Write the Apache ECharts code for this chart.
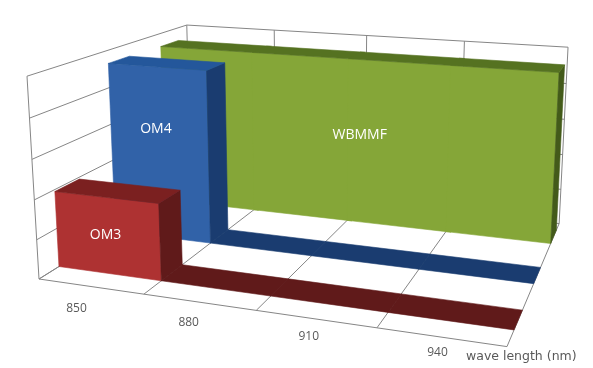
<!DOCTYPE html>
<html><head><meta charset="utf-8">
<style>html,body{margin:0;padding:0;background:#fff}#c{width:593px;height:368px}</style>
<script src="https://cdn.jsdelivr.net/npm/echarts@6/dist/echarts.min.js"></script>
</head><body><div id="c"></div>
<script>
// ---- data ----
const categories = ['850', '880', '910', '940'];
const valueTicks = [0, 1000, 2000, 3000, 4000, 5000];
const OM3 = [1950, 0, 0, 0];
const OM4 = [4650, 0, 0, 0];
const WBMMF = [4620, 4620, 4620, 4620];
const axisName = 'wave length (nm)';

// ---- camera: vanishing-point projection of the 3D plot box ----
const O = [39, 279], Vu = [-3000, -160], Vd = [715, -144], Vv = [318, 4999];
const A = -0.03336, B = 0.29, G = -0.0412; // per category, per depth, per full height
function P(u, d, t) {
  const a = u * A, b = d * B, c = t * G, w = 1 + a + b + c;
  return [(O[0] + a * Vu[0] + b * Vd[0] + c * Vv[0]) / w,
          (O[1] + a * Vu[1] + b * Vd[1] + c * Vv[1]) / w];
}
const GRID = '#868686';
function scale(api, params, cat, val) {
  const cs = params.coordSys, p = api.coord([cat, val]);
  return { u: (p[0] - cs.x) / (cs.width / categories.length), t: (cs.y + cs.height - p[1]) / cs.height };
}
function line(a, b) {
  return { type: 'line', shape: { x1: a[0], y1: a[1], x2: b[0], y2: b[1] }, style: { stroke: GRID, lineWidth: 1, fill: null } };
}
function poly(pts, color) {
  return { type: 'polygon', shape: { points: pts }, style: { fill: color, stroke: color, lineWidth: 0.6 } };
}

const rows = [
  { name: 'WBMMF', data: WBMMF, d0: 0.795, d1: 0.93, face: '#85A638', top: '#557221', side: '#435A1A', labelU: 2, labelT: 0.57, labelX: 12, labelY: 13 },
  { name: 'OM4', data: OM4, d0: 0.44, d1: 0.575, face: '#3162A8', top: '#24579B', side: '#1A3C70', labelU: 0.5, labelT: 0.57, labelX: -3, labelY: -5 },
  { name: 'OM3', data: OM3, d0: 0.105, d1: 0.24, face: '#AE3232', top: '#7B2020', side: '#601A1A', labelU: 0.5, labelT: 0.2, labelX: -2, labelY: 0 }
];

const barSeries = rows.map(r => ({
  type: 'custom', name: r.name, silent: true, animation: false, clip: false,
  data: r.data.map((v, i) => [i, v]),
  renderItem(params, api) {
    const cat = api.value(0), val = api.value(1);
    const s = scale(api, params, cat, val);
    const next = cat + 1 < r.data.length ? r.data[cat + 1] : 0;
    const joined = val > 0 && next >= val;
    const u0 = s.u - 0.5, u1 = s.u + 0.5 + (joined ? 0.05 : 0), t = s.t;
    const ch = [];
    if (val > 0) {
      ch.push(poly([P(u0, r.d0, 0), P(u1, r.d0, 0), P(u1, r.d0, t), P(u0, r.d0, t)], r.face));
      if (!joined) ch.push(poly([P(u1, r.d0, 0), P(u1, r.d1, 0), P(u1, r.d1, t), P(u1, r.d0, t)], r.side));
    }
    ch.push(poly([P(u0, r.d0, t), P(u1, r.d0, t), P(u1, r.d1, t), P(u0, r.d1, t)], val > 0 ? r.top : r.side));
    return { type: 'group', children: ch };
  }
}));

const labelSeries = rows.map(r => ({
  type: 'custom', silent: true, animation: false, clip: false, data: [[0, 0]],
  renderItem() {
    const p = P(r.labelU, r.d0, r.labelT);
    return { type: 'text', style: { text: r.name, x: p[0] + r.labelX, y: p[1] + r.labelY, fill: '#fff', font: '14px "Open Sans"', align: 'center', verticalAlign: 'middle' } };
  }
}));

const wallSeries = {
  type: 'custom', silent: true, animation: false, clip: false,
  data: valueTicks.map(v => [0, v]),
  renderItem(params, api) {
    const t = scale(api, params, 0, api.value(1)).t, n = categories.length;
    return { type: 'group', children: [line(P(0, 0, t), P(0, 1, t)), line(P(0, 1, t), P(n, 1, t))] };
  }
};
const floorSeries = {
  type: 'custom', silent: true, animation: false, clip: false,
  data: [0, 1, 2, 3, 4].map(i => [Math.min(i, categories.length - 1), 0]),
  renderItem(params, api) {
    const i = params.dataIndex, n = categories.length;
    const ch = [line(P(i, 0, 0), P(i, 1, 0)), line(P(i, 1, 0), P(i, 1, 1))];
    if (i === 0) ch.push(line(P(0, 0, 0), P(n, 0, 0)), line(P(0, 0, 0), P(0, 0, 1)));
    return { type: 'group', children: ch };
  }
};
const tickSeries = {
  type: 'custom', silent: true, animation: false, clip: false,
  data: categories.map((c, i) => [i, 0]),
  renderItem(params, api) {
    const i = params.dataIndex, u = scale(api, params, api.value(0), 0).u;
    const p = P(u, 0, 0);
    return { type: 'text', style: { text: categories[i], x: p[0] - 14 + 3.6 * i, y: p[1] + 22.5 - 2.2 * i, fill: '#595959', font: '12px "Open Sans"', align: 'center', verticalAlign: 'middle' } };
  }
};

const chart = echarts.init(document.getElementById('c'), null, { renderer: 'canvas' });
chart.setOption({
  animation: false,
  backgroundColor: '#fff',
  grid: { left: 0, top: 0, width: 400, height: 200 },
  xAxis: { type: 'category', data: categories, show: false },
  yAxis: { type: 'value', min: 0, max: 5000, interval: 1000, show: false },
  series: [wallSeries, floorSeries].concat(barSeries, labelSeries, [tickSeries]),
  graphic: [{ type: 'text', left: 466, top: 350, style: { text: axisName, fill: '#595959', font: '12.5px "DejaVu Sans"' } }]
});
</script></body></html>
